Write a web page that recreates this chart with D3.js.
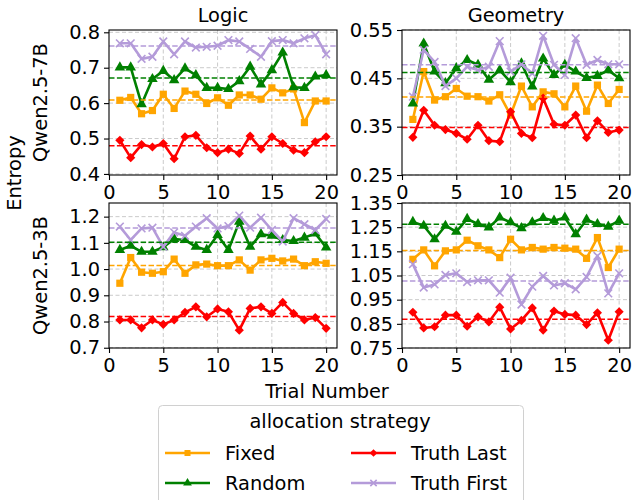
<!DOCTYPE html>
<html>
<head>
<meta charset="utf-8">
<script src="https://cdn.jsdelivr.net/npm/d3@7"></script>
<style>
  body { margin: 0; background: #fff; }
  text { font-family: "DejaVu Sans", sans-serif; }
</style>
</head>
<body>
<div id="chart"></div>
<script>
// trials and strategies
var trials = d3.range(1, 21);
var strategies = ["Fixed", "Random", "Truth Last", "Truth First"];
var colors = ["orange", "green", "red", "#b49bd9"];

// Logic / Qwen2.5-7B
var logic7B_fixed = [0.608, 0.616, 0.570, 0.579, 0.625, 0.585, 0.634, 0.625, 0.599, 0.615, 0.594, 0.623, 0.623, 0.611, 0.643, 0.629, 0.640, 0.545, 0.606, 0.606];
var logic7B_random = [0.701, 0.701, 0.597, 0.668, 0.691, 0.665, 0.698, 0.679, 0.643, 0.643, 0.640, 0.662, 0.703, 0.653, 0.693, 0.743, 0.645, 0.643, 0.675, 0.679];
var logic7B_last = [0.495, 0.446, 0.483, 0.476, 0.486, 0.443, 0.505, 0.509, 0.474, 0.460, 0.470, 0.458, 0.507, 0.470, 0.505, 0.486, 0.467, 0.460, 0.491, 0.505];
var logic7B_first = [0.769, 0.769, 0.725, 0.731, 0.774, 0.738, 0.774, 0.757, 0.759, 0.762, 0.778, 0.774, 0.753, 0.731, 0.775, 0.778, 0.769, 0.783, 0.792, 0.738];

// Geometry / Qwen2.5-7B
var geo7B_fixed = [0.365, 0.464, 0.405, 0.412, 0.429, 0.413, 0.412, 0.403, 0.416, 0.374, 0.434, 0.391, 0.422, 0.418, 0.391, 0.434, 0.382, 0.436, 0.398, 0.427];
var geo7B_random = [0.398, 0.522, 0.464, 0.440, 0.471, 0.488, 0.478, 0.447, 0.467, 0.442, 0.481, 0.433, 0.491, 0.457, 0.478, 0.464, 0.451, 0.455, 0.467, 0.450];
var geo7B_last = [0.328, 0.384, 0.353, 0.344, 0.336, 0.324, 0.353, 0.321, 0.319, 0.381, 0.336, 0.327, 0.409, 0.355, 0.353, 0.374, 0.327, 0.362, 0.338, 0.343];
var geo7B_first = [0.412, 0.509, 0.484, 0.434, 0.450, 0.474, 0.467, 0.474, 0.527, 0.464, 0.479, 0.460, 0.538, 0.478, 0.457, 0.533, 0.478, 0.488, 0.479, 0.479];

// Logic / Qwen2.5-3B
var logic3B_fixed = [0.946, 1.044, 0.988, 0.984, 0.990, 1.038, 0.984, 1.016, 1.019, 1.013, 1.013, 1.035, 0.996, 1.035, 1.041, 1.031, 1.038, 1.013, 1.028, 1.022];
var logic3B_random = [1.073, 1.089, 1.066, 1.066, 1.083, 1.115, 1.111, 1.085, 1.073, 1.130, 1.073, 1.181, 1.085, 1.133, 1.127, 1.111, 1.107, 1.120, 1.136, 1.082];
var logic3B_last = [0.806, 0.806, 0.776, 0.806, 0.789, 0.806, 0.835, 0.856, 0.818, 0.848, 0.837, 0.767, 0.850, 0.856, 0.831, 0.873, 0.831, 0.806, 0.815, 0.774];
var logic3B_first = [1.162, 1.111, 1.155, 1.158, 1.085, 1.140, 1.127, 1.162, 1.194, 1.155, 1.164, 1.204, 1.158, 1.196, 1.149, 1.105, 1.194, 1.171, 1.149, 1.191];

// Geometry / Qwen2.5-3B
var geo3B_fixed = [1.117, 1.156, 1.090, 1.152, 1.156, 1.196, 1.173, 1.156, 1.124, 1.200, 1.156, 1.166, 1.159, 1.166, 1.163, 1.159, 1.121, 1.207, 1.083, 1.159];
var geo3B_random = [1.272, 1.256, 1.200, 1.256, 1.231, 1.284, 1.263, 1.249, 1.290, 1.270, 1.246, 1.270, 1.288, 1.277, 1.290, 1.221, 1.281, 1.263, 1.252, 1.277];
var geo3B_last = [0.898, 0.833, 0.838, 0.886, 0.886, 0.840, 0.879, 0.858, 0.919, 0.829, 0.864, 0.916, 0.824, 0.903, 0.889, 0.886, 0.847, 0.896, 0.782, 0.900];
var geo3B_first = [1.097, 1.000, 1.013, 1.052, 1.059, 1.023, 1.030, 1.030, 0.979, 1.041, 0.930, 1.004, 1.048, 1.009, 1.018, 0.993, 1.044, 1.131, 0.976, 1.059];

// tick labels
var xTicks = [0, 5, 10, 15, 20];
var yTicksLogic7B = [0.4, 0.5, 0.6, 0.7, 0.8];
var yTicksGeo7B = [0.25, 0.35, 0.45, 0.55];
var yTicksLogic3B = [0.7, 0.8, 0.9, 1.0, 1.1, 1.2];
var yTicksGeo3B = [0.75, 0.85, 0.95, 1.05, 1.15, 1.25, 1.35];

var panels = [
  {row: 0, col: 0, title: "Logic", domain: [0.397, 0.8065], ticks: yTicksLogic7B, fmt: ".1f",
   series: [logic7B_fixed, logic7B_random, logic7B_last, logic7B_first]},
  {row: 0, col: 1, title: "Geometry", domain: [0.25, 0.55], ticks: yTicksGeo7B, fmt: ".2f",
   series: [geo7B_fixed, geo7B_random, geo7B_last, geo7B_first]},
  {row: 1, col: 0, domain: [0.699, 1.252], ticks: yTicksLogic3B, fmt: ".1f",
   series: [logic3B_fixed, logic3B_random, logic3B_last, logic3B_first]},
  {row: 1, col: 1, domain: [0.75, 1.35], ticks: yTicksGeo3B, fmt: ".2f",
   series: [geo3B_fixed, geo3B_random, geo3B_last, geo3B_first]}
];

var W = 632, H = 500, fs = "19.4px";
var colX = [109, 402], rowY = [30, 203], pw = 228, ph = 145;

var svg = d3.select("#chart").append("svg")
    .attr("width", W)
    .attr("height", H);

// marker shapes per strategy
var markers = [
  {type: d3.symbolSquare, size: 52, rot: 0, stroke: false},
  {type: d3.symbolTriangle, size: 48, rot: 0, stroke: false},
  {type: d3.symbolSquare, size: 42, rot: 45, stroke: false},
  {type: d3.symbolX, size: 40, rot: 0, stroke: true}
];

function drawMarker(sel, i, scale) {
  var m = markers[i];
  sel.append("path")
    .attr("d", d3.symbol().type(m.type).size(m.size * (scale || 1)))
    .attr("transform", "rotate(" + m.rot + ")")
    .attr("fill", m.stroke ? "none" : colors[i])
    .attr("stroke", m.stroke ? colors[i] : "none")
    .attr("stroke-width", m.stroke ? 1.6 : 0);
}

// draw top row first so the lower panels sit over its x tick labels
panels.forEach(function(p) {
  var x = d3.scaleLinear().domain([0, 21]).range([0, pw]);
  var y = d3.scaleLinear().domain(p.domain).range([ph, 0]);

  var g = svg.append("g")
      .attr("transform", "translate(" + colX[p.col] + "," + rowY[p.row] + ")");

  g.append("rect").attr("width", pw).attr("height", ph).attr("fill", "#fff");

  // grid
  g.append("g").selectAll("line.gx").data(xTicks.slice(1)).enter().append("line")
      .attr("x1", function(d) { return x(d); }).attr("x2", function(d) { return x(d); })
      .attr("y1", 0).attr("y2", ph)
      .attr("stroke", "#c4c4c4").attr("stroke-width", 0.9).attr("stroke-dasharray", "4,2.5");
  g.append("g").selectAll("line.gy").data(p.ticks).enter().append("line")
      .attr("x1", 0).attr("x2", pw)
      .attr("y1", function(d) { return y(d); }).attr("y2", function(d) { return y(d); })
      .attr("stroke", "#c4c4c4").attr("stroke-width", 0.9).attr("stroke-dasharray", "4,2.5");

  var line = d3.line()
      .x(function(d, i) { return x(trials[i]); })
      .y(function(d) { return y(d); });

  p.series.forEach(function(vals, i) {
    g.append("path")
        .datum(vals)
        .attr("fill", "none")
        .attr("stroke", colors[i])
        .attr("stroke-width", 2.6)
        .attr("stroke-linejoin", "round")
        .attr("d", line);

    g.append("g").selectAll("g").data(vals).enter().append("g")
        .attr("transform", function(d, j) { return "translate(" + x(trials[j]) + "," + y(d) + ")"; })
        .each(function() { drawMarker(d3.select(this), i); });
  });

  // mean lines
  p.series.forEach(function(vals, i) {
    var m = d3.mean(vals);
    g.append("line")
        .attr("x1", 0).attr("x2", pw)
        .attr("y1", y(m)).attr("y2", y(m))
        .attr("stroke", colors[i])
        .attr("stroke-width", 1.5)
        .attr("stroke-dasharray", "5.5,2.4");
  });

  // frame
  g.append("rect").attr("width", pw).attr("height", ph)
      .attr("fill", "none").attr("stroke", "#000").attr("stroke-width", 1.1);

  var yAxis = g.append("g")
      .call(d3.axisLeft(y).tickValues(p.ticks).tickFormat(d3.format(p.fmt)).tickSize(5).tickPadding(4));
  var xAxis = g.append("g")
      .attr("transform", "translate(0," + ph + ")")
      .call(d3.axisBottom(x).tickValues(xTicks).tickSize(5).tickPadding(5));

  [yAxis, xAxis].forEach(function(a) {
    a.select(".domain").remove();
    a.selectAll("line").attr("stroke", "#000").attr("stroke-width", 1.1);
    a.selectAll("text").style("font-size", fs).attr("fill", "#000")
        .style("font-family", "DejaVu Sans");
  });

  if (p.title) {
    svg.append("text")
        .attr("x", colX[p.col] + pw / 2)
        .attr("y", 22)
        .attr("text-anchor", "middle")
        .style("font-size", fs)
        .text(p.title);
  }
});

// row labels
var rowLabels = ["Qwen2.5-7B", "Qwen2.5-3B"];
rowLabels.forEach(function(t, r) {
  svg.append("text")
      .attr("transform", "translate(47," + (rowY[r] + ph / 2) + ") rotate(-90)")
      .attr("text-anchor", "middle")
      .style("font-size", fs)
      .text(t);
});

svg.append("text")
    .attr("transform", "translate(21,173) rotate(-90)")
    .attr("text-anchor", "middle")
    .style("font-size", fs)
    .text("Entropy");

svg.append("text")
    .attr("x", 327)
    .attr("y", 398)
    .attr("text-anchor", "middle")
    .style("font-size", fs)
    .text("Trial Number");

// legend
var leg = svg.append("g");
leg.append("rect")
    .attr("x", 158.5).attr("y", 405.5)
    .attr("width", 365).attr("height", 110)
    .attr("rx", 4)
    .attr("fill", "#fff")
    .attr("stroke", "#d0d0d0");
leg.append("text")
    .attr("x", 340).attr("y", 428)
    .attr("text-anchor", "middle")
    .style("font-size", fs)
    .text("allocation strategy");

var legPos = [[165, 453], [165, 483], [351, 453], [351, 483]];
strategies.forEach(function(s, i) {
  var lg = leg.append("g").attr("transform", "translate(" + legPos[i][0] + "," + legPos[i][1] + ")");
  lg.append("line").attr("x1", 0).attr("x2", 45)
      .attr("stroke", colors[i]).attr("stroke-width", 2.6);
  var mg = lg.append("g").attr("transform", "translate(22.5,0)");
  drawMarker(mg, i, 0.7);
  lg.append("text")
      .attr("x", 60).attr("y", 7)
      .style("font-size", fs)
      .text(s);
});
</script>
</body>
</html>
